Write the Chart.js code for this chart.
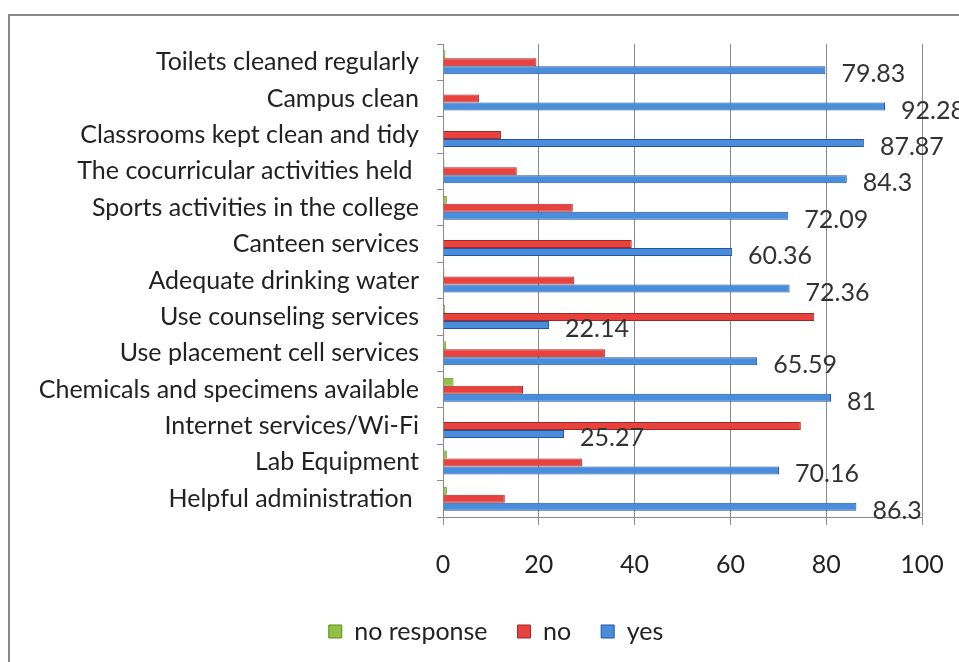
<!DOCTYPE html>
<html>
<head>
<meta charset="utf-8">
<script src="https://cdn.jsdelivr.net/npm/chart.js@4.4.1/dist/chart.umd.min.js"></script>
<style>
  html, body { margin: 0; padding: 0; background: #fff; }
  #frame { position: absolute; left: 8px; top: 14px; width: 980px; height: 700px; border: 2px solid #8a8a8a; box-sizing: border-box; }
  #wrap { position: absolute; left: 0; top: 0; width: 959px; height: 662px; }
</style>
</head>
<body>
<div id="frame"></div>
<div id="wrap"><canvas id="chart"></canvas></div>
<script>
const categories = [
  'Toilets cleaned regularly',
  'Campus clean',
  'Classrooms kept clean and tidy',
  'The cocurricular activities held ',
  'Sports activities in the college',
  'Canteen services',
  'Adequate drinking water',
  'Use counseling services',
  'Use placement cell services',
  'Chemicals and specimens available',
  'Internet services/Wi-Fi',
  'Lab Equipment',
  'Helpful administration '
];
const noResponseValues = [0.5, 0.2, 0.2, 0.3, 0.8, 0.2, 0.3, 0.4, 0.6, 2.2, 0.1, 0.8, 0.8];
const noValues = [19.5, 7.5, 12.1, 15.4, 27.1, 39.4, 27.4, 77.5, 33.8, 16.7, 74.7, 29.0, 12.9];
const yesValues = [79.83, 92.28, 87.87, 84.3, 72.09, 60.36, 72.36, 22.14, 65.59, 81, 25.27, 70.16, 86.3];
const xTicks = [0, 20, 40, 60, 80, 100];

const FONT = 'Lato, "Open Sans", sans-serif';
const FSIZE = 25;

// подписи значений только у серии "yes"
const valueLabels = {
  id: 'valueLabels',
  afterDatasetsDraw(chart) {
    const ctx = chart.ctx;
    const meta = chart.getDatasetMeta(2);
    ctx.save();
    ctx.font = FSIZE + 'px ' + FONT;
    ctx.fillStyle = '#333';
    ctx.textAlign = 'left';
    ctx.textBaseline = 'middle';
    meta.data.forEach((bar, i) => {
      ctx.fillText(String(yesValues[i]), bar.x + 16, bar.y + 4);
    });
    ctx.restore();
  }
};

// легенда в оригинале смещена вправо от центра
const shiftLegend = {
  id: 'shiftLegend',
  afterLayout(chart) {
    const lg = chart.legend;
    if (!lg) return;
    lg.left += 35; lg.right += 35;
    lg.top += 2; lg.bottom += 2;
  }
};

new Chart(document.getElementById('chart'), {
  type: 'bar',
  data: {
    labels: categories,
    datasets: [
      {
        label: 'no response',
        data: noResponseValues,
        backgroundColor: '#93c143',
        borderColor: '#5e8a22',
        borderWidth: 1
      },
      {
        label: 'no',
        data: noValues,
        backgroundColor: '#e8413e',
        borderColor: '#9e2a28',
        borderWidth: 1
      },
      {
        label: 'yes',
        data: yesValues,
        backgroundColor: '#4a8ddc',
        borderColor: '#24549a',
        borderWidth: 1
      }
    ]
  },
  options: {
    indexAxis: 'y',
    responsive: true,
    maintainAspectRatio: false,
    animation: false,
    categoryPercentage: 0.66,
    barPercentage: 1,
    layout: { padding: { left: 0, right: 37, top: 44, bottom: 10 } },
    scales: {
      x: {
        min: 0,
        max: 100,
        afterBuildTicks: scale => { scale.ticks = xTicks.map(v => ({ value: v })); },
        afterFit: scale => {
          scale.height = 70;
          scale.paddingLeft = 0;
          scale.paddingRight = 0;
        },
        grid: { color: '#8c8c8c', tickLength: 8, lineWidth: 1 },
        border: { color: '#8c8c8c' },
        ticks: { color: '#222', font: { family: FONT, size: FSIZE }, padding: 25 }
      },
      y: {
        afterFit: scale => { scale.width = 443; },
        grid: { display: true, drawOnChartArea: false, offset: true, tickLength: 6, color: '#8c8c8c' },
        border: { color: '#8c8c8c' },
        ticks: { color: '#222', font: { family: FONT, size: FSIZE }, padding: 18, autoSkip: false }
      }
    },
    plugins: {
      legend: {
        position: 'bottom',
        labels: {
          color: '#222',
          font: { family: FONT, size: FSIZE },
          boxWidth: 13,
          boxHeight: 13,
          padding: 30
        }
      },
      tooltip: { enabled: false }
    }
  },
  plugins: [valueLabels, shiftLegend]
});
</script>
</body>
</html>
